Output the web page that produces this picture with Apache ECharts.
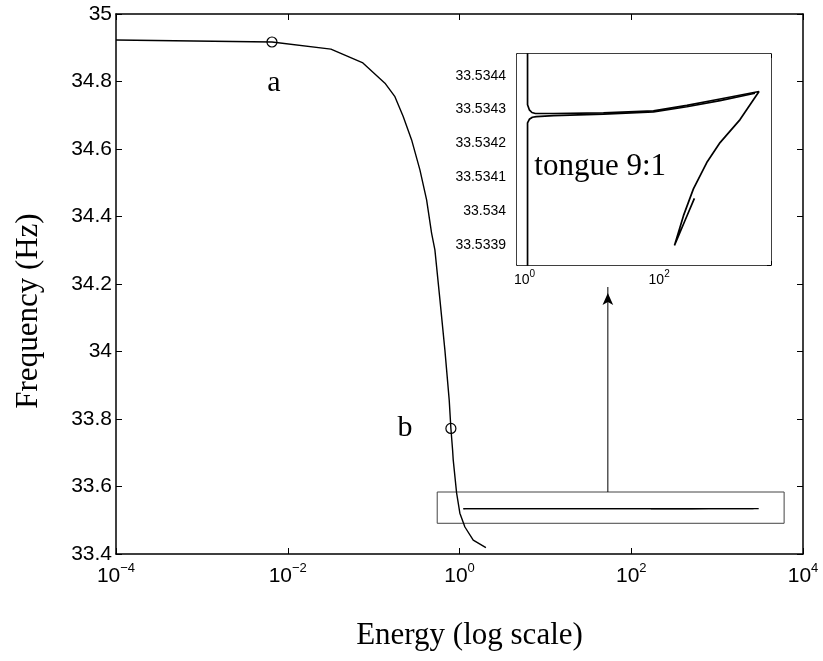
<!DOCTYPE html>
<html>
<head>
<meta charset="utf-8">
<script src="https://cdn.jsdelivr.net/npm/echarts@6/dist/echarts.min.js"></script>
<style>
  html, body { margin: 0; padding: 0; background: #fff; }
  #chart { width: 823px; height: 661px; }
</style>
</head>
<body>
<div id="chart"></div>
<script>
// Main frequency-energy backbone curve
const mainEnergy = [1e-4, 0.00655, 0.0318, 0.0750, 0.1355, 0.177, 0.221, 0.277, 0.346, 0.414,
  0.473, 0.517, 0.592, 0.676, 0.759, 0.794, 0.831, 0.845, 0.925, 1.01, 1.156, 1.445, 2.03];
const mainFreq = [34.923, 34.917, 34.896, 34.855, 34.795, 34.755, 34.696, 34.627, 34.538, 34.449,
  34.351, 34.301, 34.153, 34.004, 33.856, 33.772, 33.708, 33.679, 33.581, 33.521, 33.480, 33.441, 33.419];

// Tongue 9:1 branches (upper branch loops back through the cusp)
const tongueUpperEnergy = [1.11, 1.11, 1.18, 1.29, 1.45, 2.70, 14.9, 82.3, 258, 804, 3048,
  1592, 804, 510, 323, 230, 169, 238, 334];
const tongueUpperFreq = [33.5345, 33.534314, 33.534299, 33.534291, 33.534288, 33.534288, 33.534290,
  33.534296, 33.534312, 33.534331, 33.534353, 33.534270, 33.534202, 33.534143, 33.534065,
  33.533986, 33.533898, 33.533968, 33.534037];
const tongueLowerEnergy = [1.11, 1.11, 1.18, 1.31, 1.50, 2.70, 14.9, 82.3, 258, 804, 2655];
const tongueLowerFreq = [33.5338, 33.534260, 33.534271, 33.534277, 33.534279, 33.534282, 33.534286,
  33.534293, 33.534308, 33.534326, 33.534348];

// Marked points a and b
const markNames = ['a', 'b'];
const markEnergy = [0.00655, 0.794];
const markFreq = [34.917, 33.772];

// Zoom rectangle around the tongue, and the arrow pointing to the inset
const zoomBoxEnergy = [0.55, 6026];
const zoomBoxFreq = [33.491, 33.5837];
const arrowEnergy = 53.4;
const arrowFreq = [33.5837, 34.1911];

// Axis ranges and ticks
const mainEnergyRange = [1e-4, 1e4];
const mainFreqRange = [33.4, 35];
const mainFreqStep = 0.2;
const insetEnergyRange = [0.774, 4590];
const insetFreqRange = [33.53384, 33.534464];

const tongueText = 'tongue 9:1';
const tongueTextEnergy = 1.40;
const tongueTextFreq = 33.534129;

const toPairs = (xs, ys) => xs.map((x, i) => [x, ys[i]]);

const SANS = 'Liberation Sans, Arial, Helvetica, sans-serif';
const SERIF = 'Liberation Serif, Times New Roman, serif';

function powerLabel(v) {
  const e = Math.log10(v);
  const r = Math.round(e);
  if (Math.abs(e - r) > 0.01) return '';
  const exp = r < 0 ? '\u2212' + Math.abs(r) : String(r);
  return '{b|10}{s|' + exp + '}';
}

function axisBase(extra) {
  return Object.assign({
    axisLine: { show: true, onZero: false, lineStyle: { color: '#000', width: 1.5 } },
    splitLine: { show: false },
    minorTick: { show: false }
  }, extra);
}

const plainLabel = { color: '#000', opacity: 1, textBorderWidth: 0, textShadowBlur: 0 };

const option = {
  backgroundColor: '#fff',
  animation: false,
  grid: [
    { left: 116, top: 14, width: 687, height: 540, outerBoundsMode: 'none', containLabel: false },
    { left: 517, top: 54, width: 254, height: 211, outerBoundsMode: 'none', containLabel: false,
      show: true, backgroundColor: '#fff', borderWidth: 0, z: 5 }
  ],
  xAxis: [
    axisBase({
      type: 'log', logBase: 100, gridIndex: 0, position: 'bottom',
      min: mainEnergyRange[0], max: mainEnergyRange[1],
      name: 'Energy (log scale)', nameLocation: 'middle', nameGap: 66,
      nameTextStyle: { fontFamily: SERIF, fontSize: 31, color: '#000', padding: [0, 0, 0, 20] },
      axisTick: { show: true, inside: true, length: 6, lineStyle: { color: '#000', width: 1 } },
      axisLabel: {
        margin: 8, formatter: powerLabel, color: '#000',
        rich: {
          b: { fontFamily: SANS, fontSize: 21, color: '#000' },
          s: { fontFamily: SANS, fontSize: 13, color: '#000', padding: [0, 0, 16, 0] }
        }
      }
    }),
    axisBase({
      type: 'log', logBase: 100, gridIndex: 0, position: 'top',
      min: mainEnergyRange[0], max: mainEnergyRange[1],
      axisTick: { show: true, inside: true, length: 6, lineStyle: { color: '#000', width: 1 } },
      axisLabel: { show: false }
    }),
    axisBase({
      type: 'log', logBase: 100, gridIndex: 1, position: 'bottom',
      min: insetEnergyRange[0], max: insetEnergyRange[1],
      axisTick: { show: true, inside: true, length: 4, lineStyle: { color: '#000', width: 1 } },
      axisLabel: {
        margin: 4, formatter: powerLabel, color: '#000',
        rich: {
          b: { fontFamily: SANS, fontSize: 14, color: '#000' },
          s: { fontFamily: SANS, fontSize: 10, color: '#000', padding: [0, 0, 12, 0] }
        }
      }
    }),
    axisBase({
      type: 'log', logBase: 100, gridIndex: 1, position: 'top',
      min: insetEnergyRange[0], max: insetEnergyRange[1],
      axisTick: { show: true, inside: true, length: 4, lineStyle: { color: '#000', width: 1 } },
      axisLabel: { show: false }
    })
  ],
  yAxis: [
    axisBase({
      type: 'value', gridIndex: 0, position: 'left',
      min: mainFreqRange[0], max: mainFreqRange[1], interval: mainFreqStep,
      name: 'Frequency (Hz)', nameLocation: 'middle', nameGap: 72, nameRotate: 90,
      nameTextStyle: { fontFamily: SERIF, fontSize: 31, color: '#000', padding: [0, 54, 0, 0] },
      axisTick: { show: true, inside: true, length: 6, lineStyle: { color: '#000', width: 1 } },
      axisLabel: {
        margin: 4, color: '#000', fontFamily: SANS, fontSize: 21,
        formatter: v => String(parseFloat(v.toFixed(1)))
      }
    }),
    axisBase({
      type: 'value', gridIndex: 0, position: 'right',
      min: mainFreqRange[0], max: mainFreqRange[1], interval: mainFreqStep,
      axisTick: { show: true, inside: true, length: 6, lineStyle: { color: '#000', width: 1 } },
      axisLabel: { show: false }
    }),
    axisBase({
      type: 'value', gridIndex: 1, position: 'left',
      min: insetFreqRange[0], max: insetFreqRange[1], scale: true,
      axisTick: { show: true, inside: true, length: 4, lineStyle: { color: '#000', width: 1 } },
      axisLabel: {
        margin: 11, color: '#000', fontFamily: SANS, fontSize: 14,
        showMinLabel: false, showMaxLabel: false,
        formatter: v => {
          const k = v * 1e4;
          if (Math.abs(k - Math.round(k)) > 1e-3) return '';
          return String(parseFloat(v.toFixed(4)));
        }
      }
    }),
    axisBase({
      type: 'value', gridIndex: 1, position: 'right',
      min: insetFreqRange[0], max: insetFreqRange[1], scale: true,
      axisTick: { show: true, inside: true, length: 4, lineStyle: { color: '#000', width: 1 } },
      axisLabel: { show: false }
    })
  ],
  series: [
    {
      type: 'line', xAxisIndex: 0, yAxisIndex: 0, data: toPairs(mainEnergy, mainFreq),
      showSymbol: false, symbol: 'none', lineStyle: { color: '#000', width: 1.4 }, z: 3
    },
    {
      type: 'line', xAxisIndex: 0, yAxisIndex: 0, data: toPairs(tongueUpperEnergy, tongueUpperFreq),
      showSymbol: false, symbol: 'none', lineStyle: { color: '#000', width: 1.3 }, z: 3
    },
    {
      type: 'line', xAxisIndex: 0, yAxisIndex: 0, data: toPairs(tongueLowerEnergy, tongueLowerFreq),
      showSymbol: false, symbol: 'none', lineStyle: { color: '#000', width: 1.3 }, z: 3
    },
    {
      // zoom rectangle
      type: 'line', xAxisIndex: 0, yAxisIndex: 0,
      data: [
        [zoomBoxEnergy[0], zoomBoxFreq[0]], [zoomBoxEnergy[1], zoomBoxFreq[0]],
        [zoomBoxEnergy[1], zoomBoxFreq[1]], [zoomBoxEnergy[0], zoomBoxFreq[1]],
        [zoomBoxEnergy[0], zoomBoxFreq[0]]
      ],
      showSymbol: false, symbol: 'none', lineStyle: { color: '#444', width: 1 }, z: 2
    },
    {
      // arrow to the inset
      type: 'line', xAxisIndex: 0, yAxisIndex: 0,
      data: [
        { value: [arrowEnergy, arrowFreq[0]], symbol: 'none' },
        { value: [arrowEnergy, arrowFreq[1]], symbol: 'arrow', symbolSize: [8, 12], symbolOffset: [0, 6] }
      ],
      showSymbol: true, lineStyle: { color: '#000', width: 1 }, itemStyle: { color: '#000', opacity: 1 }, z: 2
    },
    {
      type: 'scatter', xAxisIndex: 0, yAxisIndex: 0,
      data: markNames.map((n, i) => ({
        name: n, value: [markEnergy[i], markFreq[i]],
        label: i === 0 ? { offset: [2, 41] } : { offset: [-46, 0] }
      })),
      symbol: 'circle', symbolSize: 10,
      itemStyle: { color: 'rgba(255,255,255,0)', borderColor: '#000', borderWidth: 1.2, opacity: 1 },
      label: Object.assign({
        show: true, position: 'inside', formatter: p => p.name,
        fontFamily: SERIF, fontSize: 30
      }, plainLabel),
      z: 4
    },
    {
      type: 'line', xAxisIndex: 2, yAxisIndex: 2, data: toPairs(tongueUpperEnergy, tongueUpperFreq),
      showSymbol: false, symbol: 'none', lineStyle: { color: '#000', width: 1.7 }, z: 6, clip: true
    },
    {
      type: 'line', xAxisIndex: 2, yAxisIndex: 2, data: toPairs(tongueLowerEnergy, tongueLowerFreq),
      showSymbol: false, symbol: 'none', lineStyle: { color: '#000', width: 1.7 }, z: 6, clip: true
    },
    {
      type: 'scatter', xAxisIndex: 2, yAxisIndex: 2,
      data: [{ name: tongueText, value: [tongueTextEnergy, tongueTextFreq] }],
      symbolSize: 0, itemStyle: { opacity: 1 },
      label: Object.assign({
        show: true, position: 'right', distance: 0, formatter: p => p.name,
        fontFamily: SERIF, fontSize: 31
      }, plainLabel),
      z: 6
    }
  ]
};

const chart = echarts.init(document.getElementById('chart'), null, { renderer: 'canvas' });
chart.setOption(option);
</script>
</body>
</html>
